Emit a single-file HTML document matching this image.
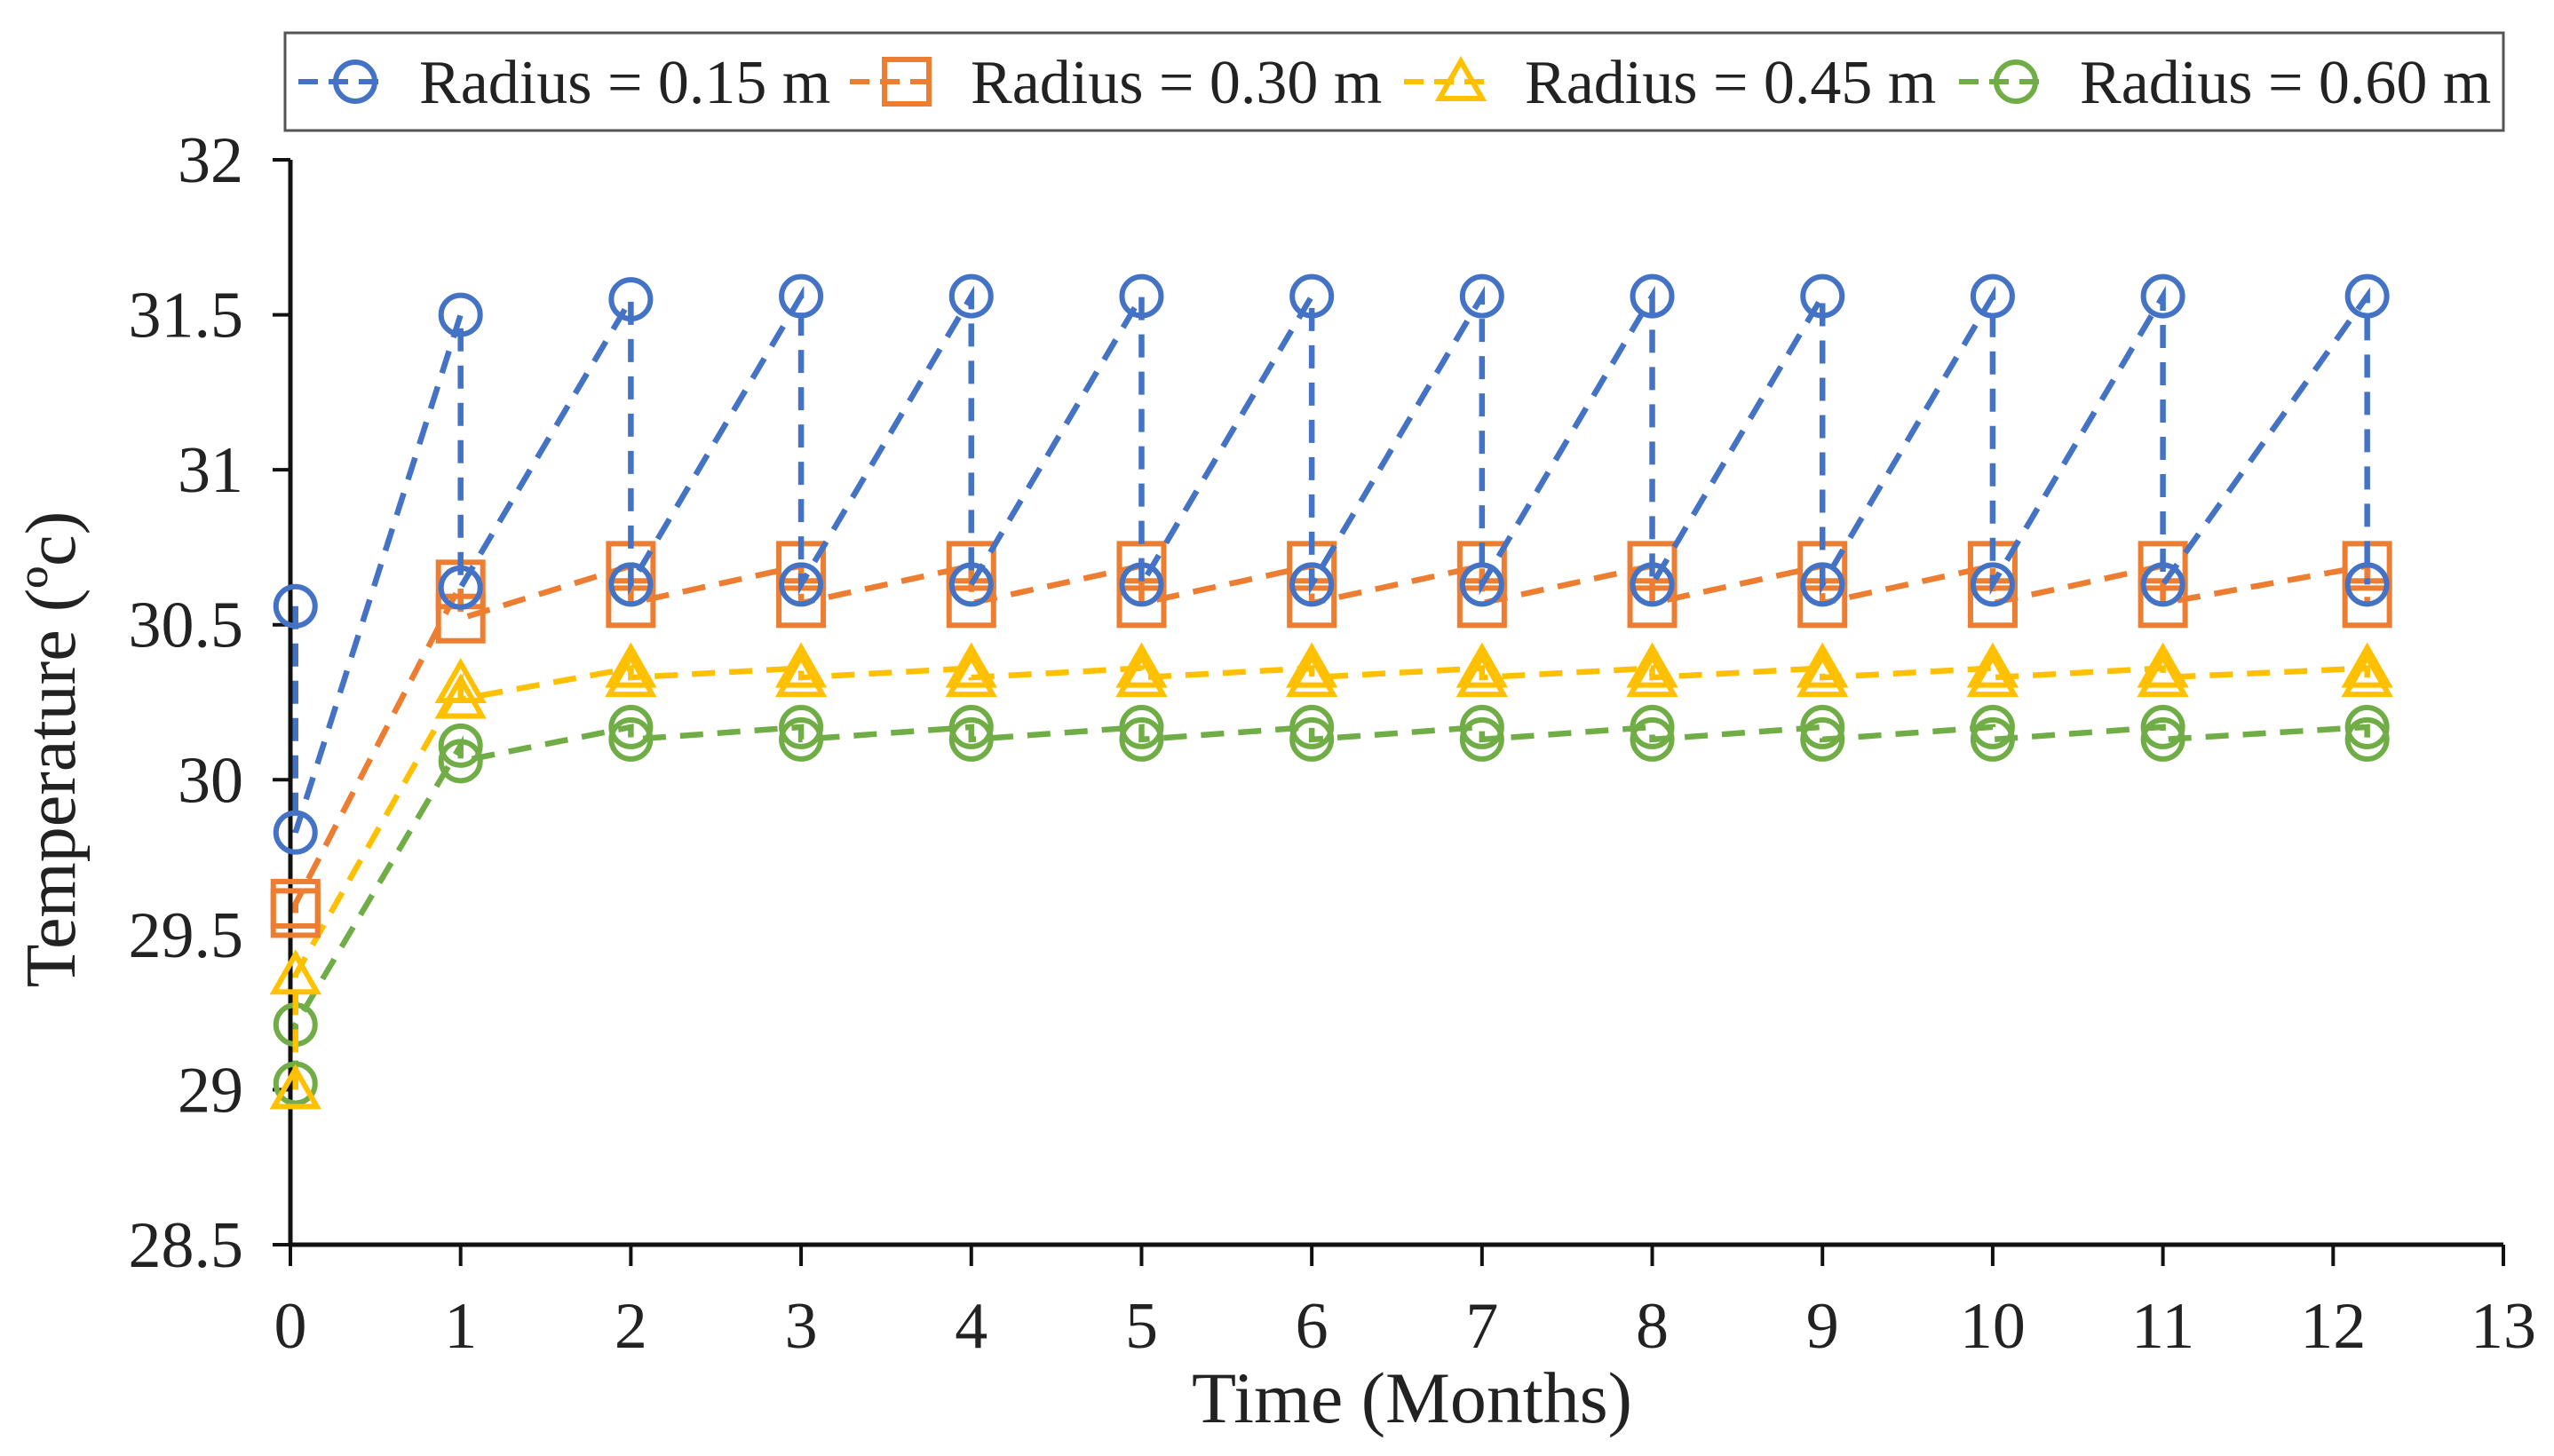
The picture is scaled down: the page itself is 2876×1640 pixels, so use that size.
<!DOCTYPE html>
<html><head><meta charset="utf-8"><style>
html,body{margin:0;padding:0;background:#fff;}
svg{display:block;font-family:"Liberation Serif",serif;}
</style></head><body>
<svg id="chart" width="2876" height="1640" viewBox="0 0 2876 1640" xmlns="http://www.w3.org/2000/svg">
<g id="legend">
<rect x="321" y="37" width="2498" height="110" fill="#fff" stroke="#555" stroke-width="3"/>
</g>
<g id="axes"></g>
<g id="marks"></g>
<text x="1590" y="1602" font-size="82" text-anchor="middle" fill="#222">Time (Months)</text>
<text transform="translate(84,844) rotate(-90)" font-size="80" text-anchor="middle" fill="#222">Temperature (ºc)</text>
</svg>
<script>
const xTicks = [0,1,2,3,4,5,6,7,8,9,10,11,12,13];
const yTicks = [28.5,29,29.5,30,30.5,31,31.5,32];
const seriesNames = ["Radius = 0.15 m","Radius = 0.30 m","Radius = 0.45 m","Radius = 0.60 m"];
const timeX = [0.03,1,2,3,4,5,6,7,8,9,10,11,12.2];
const blueTop = [30.56,31.5,31.55,31.56,31.56,31.56,31.56,31.56,31.56,31.56,31.56,31.56,31.56];
const blueBottom = [29.83,30.62,30.63,30.63,30.63,30.63,30.63,30.63,30.63,30.63,30.63,30.63,30.63];
const orangeTop = [29.57,30.63,30.69,30.69,30.69,30.69,30.69,30.69,30.69,30.69,30.69,30.69,30.69];
const orangeBottom = [29.6,30.52,30.57,30.57,30.57,30.57,30.57,30.57,30.57,30.57,30.57,30.57,30.57];
const yellowTop = [29.0,30.31,30.36,30.36,30.36,30.36,30.36,30.36,30.36,30.36,30.36,30.36,30.36];
const yellowBottom = [29.37,30.26,30.33,30.33,30.33,30.33,30.33,30.33,30.33,30.33,30.33,30.33,30.33];
const greenTop = [29.02,30.11,30.17,30.17,30.17,30.17,30.17,30.17,30.17,30.17,30.17,30.17,30.17];
const greenBottom = [29.21,30.06,30.13,30.13,30.13,30.13,30.13,30.13,30.13,30.13,30.13,30.13,30.13];

const NS="http://www.w3.org/2000/svg";
const X0=327, X1=2819, Y0=1402, Y1=180;
function xs(v){return X0+(v-0)/(13-0)*(X1-X0);}
function ys(v){return Y0-(v-28.5)/(32-28.5)*(Y0-Y1);}
function mk(tag,attrs,parent){const e=document.createElementNS(NS,tag);for(const k in attrs)e.setAttribute(k,attrs[k]);parent.appendChild(e);return e;}
const axes=document.getElementById('axes'), marks=document.getElementById('marks'), legend=document.getElementById('legend');

let e;
e=mk('line',{x1:X0,y1:Y1,x2:X0,y2:Y0,stroke:'#111','stroke-width':5},axes);


e=mk('line',{x1:X0,y1:Y0,x2:X1,y2:Y0,stroke:'#111','stroke-width':5},axes);


yTicks.forEach(v=>{
  const t=mk('line',{x1:X0-20,y1:ys(v),x2:X0,y2:ys(v),stroke:'#111','stroke-width':4},axes);
  
  
  const l=mk('text',{x:274,y:ys(v)+25,'font-size':74,'text-anchor':'end',fill:'#222'},axes);
  l.textContent=String(v);
  
  
});
xTicks.forEach(v=>{
  const t=mk('line',{x1:xs(v),y1:Y0,x2:xs(v),y2:Y0+24,stroke:'#111','stroke-width':4},axes);
  
  
  const l=mk('text',{x:xs(v),y:1518,'font-size':74,'text-anchor':'middle',fill:'#222'},axes);
  l.textContent=String(v);
  
  
});

const colors=['#4472C4','#ED7D31','#FFC000','#70AD47'];
const shapes=['circle','square','triangle','circle'];
const tops=[blueTop,orangeTop,yellowTop,greenTop];
const bottoms=[blueBottom,orangeBottom,yellowBottom,greenBottom];

function marker(shape,cx,cy,color,parent){
  let m;
  if(shape==='circle') m=mk('circle',{cx:cx,cy:cy,r:22,fill:'none',stroke:color,'stroke-width':6},parent);
  else if(shape==='square') m=mk('rect',{x:cx-25,y:cy-25,width:50,height:50,fill:'none',stroke:color,'stroke-width':6},parent);
  else m=mk('polygon',{points:`${cx},${cy-23} ${cx+24},${cy+19} ${cx-24},${cy+19}`,fill:'none',stroke:color,'stroke-width':6},parent);
  return m;
}

for(let s=3;s>=0;s--){
  const g=mk('g',{},marks);
  
  
  let pts=[];
  timeX.forEach((t,i)=>{pts.push(xs(t)+','+ys(tops[s][i]));pts.push(xs(t)+','+ys(bottoms[s][i]));});
  const p=mk('polyline',{points:pts.join(' '),fill:'none',stroke:colors[s],'stroke-width':6.5,'stroke-dasharray':'26 16'},g);
  
  
  timeX.forEach((t,i)=>{
    [tops[s][i],bottoms[s][i]].forEach(v=>{
      const m=marker(shapes[s],xs(t),ys(v),colors[s],g);
      
      
    });
  });
}

const legX=[336,957,1581,2206];
seriesNames.forEach((n,i)=>{
  const g=mk('g',{},legend);
  
  
  const ln=mk('line',{x1:legX[i],y1:92,x2:legX[i]+95,y2:92,stroke:colors[i],'stroke-width':6,'stroke-dasharray':'22 12'},g);
  
  
  const m=marker(shapes[i],legX[i]+64,92,colors[i],g);
  
  
  const t=mk('text',{x:legX[i]+136,y:116,'font-size':70,fill:'#222'},g);
  t.textContent=n;
  
  
});
</script>
</body></html>
